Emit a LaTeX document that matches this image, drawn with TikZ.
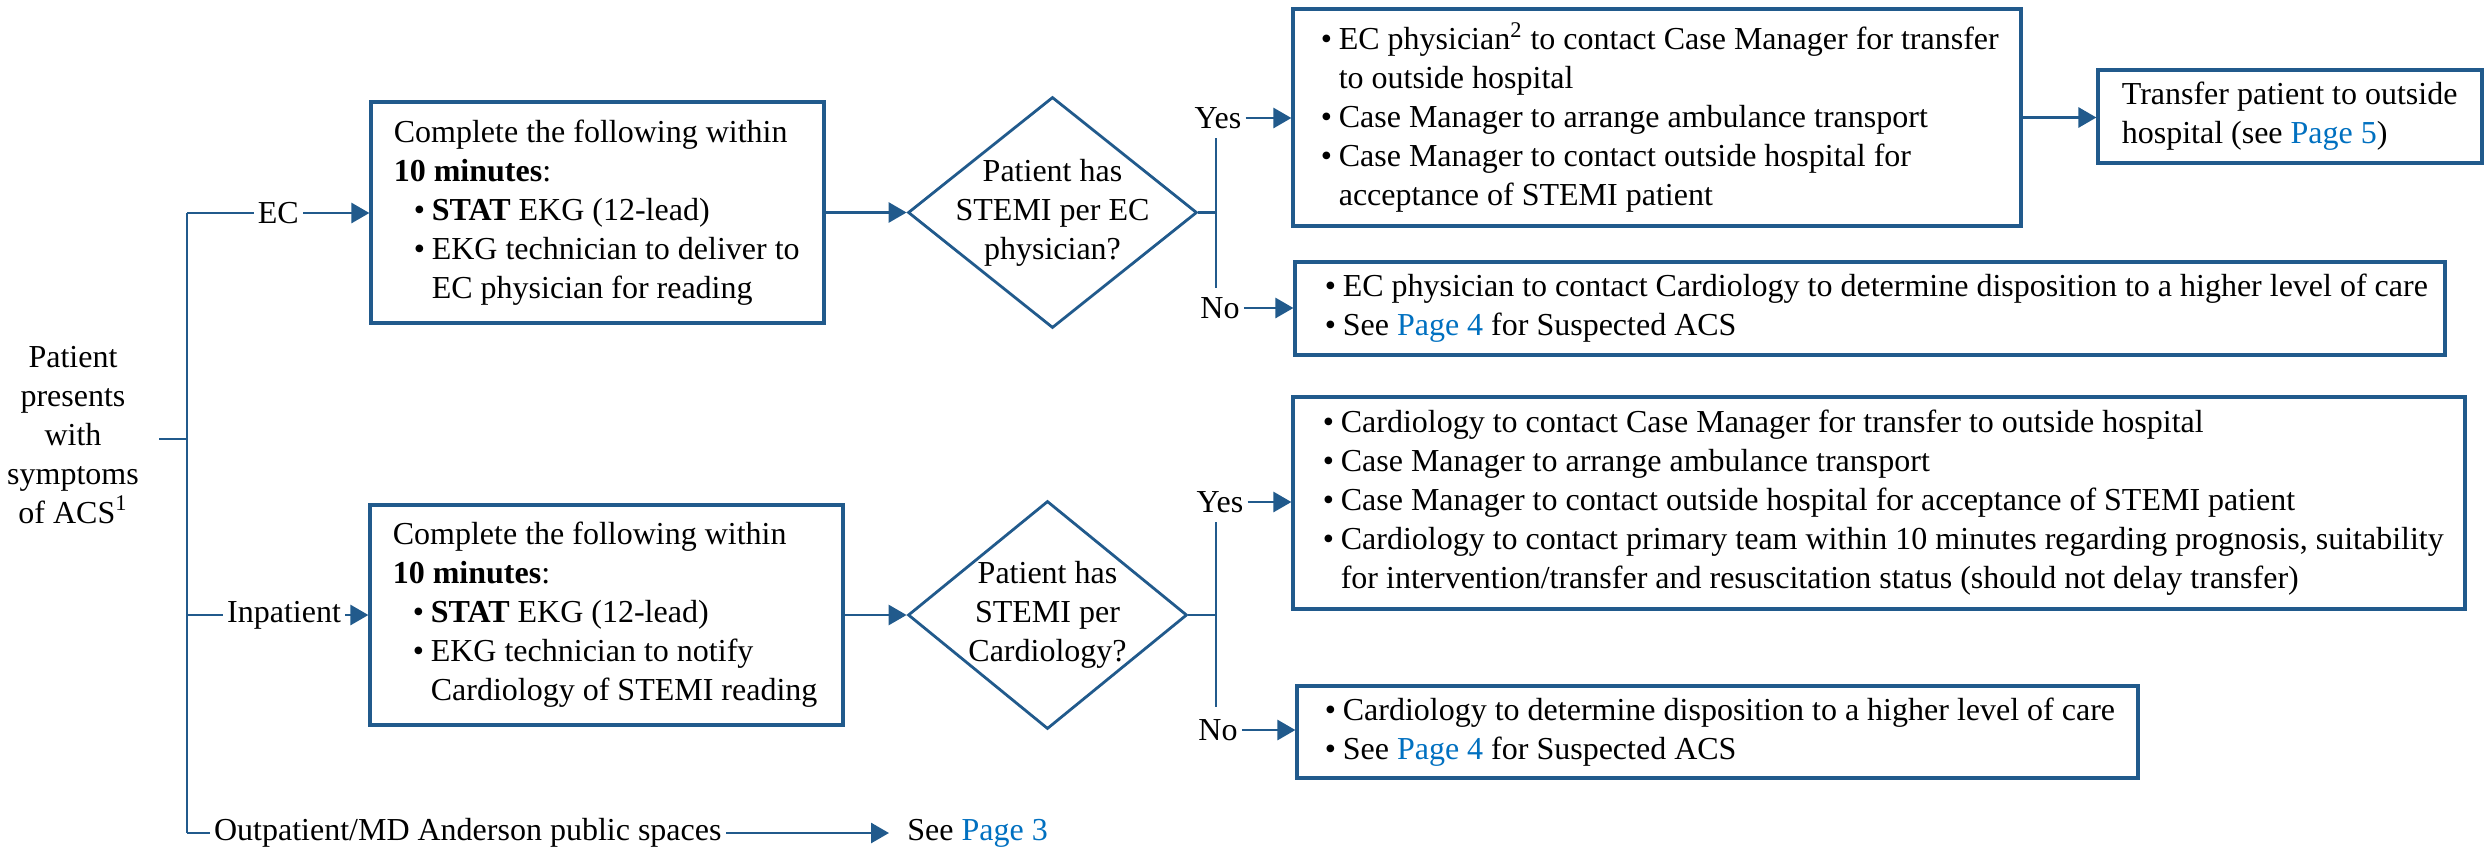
\documentclass[tikz,border=0pt]{standalone}
\usepackage{fontspec}
\setmainfont{LiberationSerif}[Extension=.ttf, UprightFont=*-Regular, BoldFont=*-Bold, ItalicFont=*-Italic, BoldItalicFont=*-BoldItalic]
\usetikzlibrary{arrows.meta,shapes.geometric}
\definecolor{lineblue}{HTML}{215A8C}
\definecolor{linkblue}{HTML}{0070C0}
\newcommand{\bul}{\makebox[9pt][l]{\textbullet}}
\newcommand{\cont}{\hspace*{9pt}}
\newcommand{\fs}{\fontsize{16}{19.5}\selectfont}
\begin{document}
\begin{tikzpicture}[x=0.5pt,y=-0.5pt,
  box/.style={draw=lineblue, line width=1.6pt, inner sep=0pt},
  dia/.style={diamond, draw=lineblue, line width=1.4pt, inner sep=0pt},
  txt/.style={inner sep=0pt, align=left, anchor=west, font=\fs},
  ctxt/.style={inner sep=0pt, align=center, font=\fs},
  lbl/.style={fill=white, inner sep=2pt, font=\fs},
  yn/.style={inner sep=2pt, font=\fs},
  conn/.style={draw=lineblue, line width=1.4pt},
  arr/.style={conn, -{Triangle[length=9pt,width=10pt]}}]
\useasboundingbox (0,0) rectangle (2489,852);

% left text and stem
\node[ctxt] (lt) at (73,435) {Patient\\presents\\with\\symptoms\\of ACS\textsuperscript{1}};
\coordinate (stub) at (159,439);
\coordinate (ecB) at (187,213);
\coordinate (inB) at (187,615);
\coordinate (outB) at (187,833);
\draw[conn] (stub) -- (stub -| ecB);
\draw[conn] (ecB) -- (outB);

% EC row
\node[box, minimum width=226.5pt, minimum height=110.5pt] (e1) at (597.5,212.5) {};
\node[txt] (e1t) at ([xshift=12pt]e1.west) {Complete the following within\\
\textbf{10 minutes}:\\
\hspace*{10pt}\bul\textbf{STAT} EKG (12-lead)\\
\hspace*{10pt}\bul EKG technician to deliver to\\
\hspace*{19pt}EC physician for reading};
\draw[arr] (ecB) -- node[lbl, pos=0.5] (eclbl) {EC} (ecB -| e1.west);

\node[dia, minimum width=144.5pt, minimum height=115.5pt] (d1) at (1052.5,212.5) {};
\node[ctxt] (d1t) at (d1.center) {Patient has\\STEMI per EC\\physician?};
\draw[arr] (e1.east) -- (d1.west);

\coordinate (br1) at (1216,212.5);
\coordinate (b1t) at (1216,138);
\coordinate (b1b) at (1216,288);
\draw[conn] (d1.east) -- (br1);
\draw[conn] (b1t) -- (b1b);
\node[yn] (yes1) at (1218,118) {Yes};
\node[yn] (no1) at (1220,308) {No};

\node[box, minimum width=364pt, minimum height=108.5pt] (b2) at (1657,117.5) {};
\node[txt] (b2t) at ([xshift=14.5pt]b2.west) {\bul EC physician\textsuperscript{2} to contact Case Manager for transfer\\
\cont to outside hospital\\
\bul Case Manager to arrange ambulance transport\\
\bul Case Manager to contact outside hospital for\\
\cont acceptance of STEMI patient};
\draw[arr] (yes1.east) -- (yes1.east -| b2.west);

\node[box, minimum width=192pt, minimum height=46.5pt] (b4) at (2290,116.5) {};
\node[txt] (b4t) at ([xshift=12.5pt]b4.west) {Transfer patient to outside\\
hospital (see \textcolor{linkblue}{Page 5})};
\draw[arr] (b2.east) -- (b2.east -| b4.west);

\node[box, minimum width=575pt, minimum height=46.5pt] (b3) at (1870,308.5) {};
\node[txt] (b3t) at ([xshift=15.5pt]b3.west) {\bul EC physician to contact Cardiology to determine disposition to a higher level of care\\
\bul See \textcolor{linkblue}{Page 4} for Suspected ACS};
\draw[arr] (no1.east) -- (no1.east -| b3.west);

% Inpatient row
\node[box, minimum width=236.5pt, minimum height=110pt] (i1) at (606.5,615) {};
\node[txt] (i1t) at ([xshift=12pt]i1.west) {Complete the following within\\
\textbf{10 minutes}:\\
\hspace*{10pt}\bul\textbf{STAT} EKG (12-lead)\\
\hspace*{10pt}\bul EKG technician to notify\\
\hspace*{19pt}Cardiology of STEMI reading};
\draw[arr] (inB) -- node[lbl, pos=0.535] (inlbl) {Inpatient} (inB -| i1.west);

\node[dia, minimum width=139.5pt, minimum height=114pt] (d2) at (1047.5,615) {};
\node[ctxt] (d2t) at (d2.center) {Patient has\\STEMI per\\Cardiology?};
\draw[arr] (i1.east) -- (d2.west);

\coordinate (br2) at (1216,615);
\coordinate (b2t0) at (1216,522);
\coordinate (b2b0) at (1216,707);
\draw[conn] (d2.east) -- (br2);
\draw[conn] (b2t0) -- (b2b0);
\node[yn] (yes2) at (1220,502) {Yes};
\node[yn] (no2) at (1218,730) {No};

\node[box, minimum width=586pt, minimum height=106pt] (b5) at (1879,503) {};
\node[txt] (b5t) at ([xshift=15.5pt]b5.west) {\bul Cardiology to contact Case Manager for transfer to outside hospital\\
\bul Case Manager to arrange ambulance transport\\
\bul Case Manager to contact outside hospital for acceptance of STEMI patient\\
\bul Cardiology to contact primary team within 10 minutes regarding prognosis, suitability\\
\cont for intervention/transfer and resuscitation status (should not delay transfer)};
\draw[arr] (yes2.east) -- (yes2.east -| b5.west);

\node[box, minimum width=420.5pt, minimum height=46pt] (b6) at (1717.5,732) {};
\node[txt] (b6t) at ([xshift=14.5pt]b6.west) {\bul Cardiology to determine disposition to a higher level of care\\
\bul See \textcolor{linkblue}{Page 4} for Suspected ACS};
\draw[arr] (no2.east) -- (no2.east -| b6.west);

% Outpatient row
\node[txt, inner xsep=9pt] (see3) at (889,833) {See \textcolor{linkblue}{Page 3}};
\draw[arr] (outB) -- node[lbl, pos=0.40] (outlbl) {Outpatient/MD Anderson public spaces} (see3.west);
\end{tikzpicture}
\end{document}
